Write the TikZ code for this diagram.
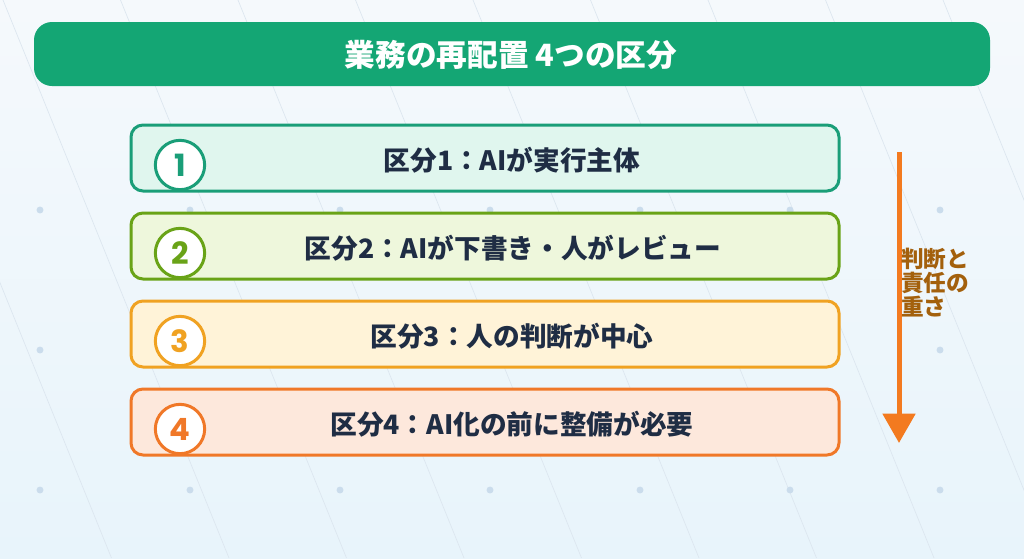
\documentclass[tikz,border=0pt]{standalone}
\usepackage{fontspec}
\setmainfont{Noto Sans CJK JP}[BoldFont={Noto Sans CJK JP Black}]
\newfontfamily\pop{Poppins}[BoldFont={Poppins Bold}]
\usetikzlibrary{arrows.meta}
\definecolor{bgtop}{HTML}{F5F9FC}
\definecolor{bgbot}{HTML}{E8F4FB}
\definecolor{gridline}{HTML}{DCE6EF}
\definecolor{dotc}{HTML}{CADCEC}
\definecolor{titlegreen}{HTML}{14A674}
\definecolor{navy}{HTML}{1F2D44}
\definecolor{cA}{HTML}{1A9E78}\definecolor{fA}{HTML}{E0F6EE}
\definecolor{cB}{HTML}{69A317}\definecolor{fB}{HTML}{EEF7DC}
\definecolor{cC}{HTML}{F0A222}\definecolor{fC}{HTML}{FFF3D8}
\definecolor{cD}{HTML}{F07828}\definecolor{fD}{HTML}{FDE8DC}
\definecolor{arrowc}{HTML}{F37A1F}
\definecolor{brown}{HTML}{A3600C}
\tikzset{
  catbox/.style={draw=#1, line width=2.25pt, rounded corners=9pt, minimum width=531pt, minimum height=49.5pt, inner sep=0pt},
  numc/.style={circle, draw=#1, fill=white, line width=2.25pt, minimum size=37pt, inner sep=0pt, text=#1, font=\pop\bfseries\fontsize{23}{23}\selectfont},
  cattext/.style={text=navy, font=\bfseries\fontsize{20}{21}\selectfont},
}
\begin{document}
\begin{tikzpicture}[x=0.75pt, y=-0.75pt]
\useasboundingbox (0,0) rectangle (1024,558);
\shade[top color=bgtop, bottom color=bgbot] (0,0) rectangle (1024,558);
\begin{scope}
\clip (0,0) rectangle (1024,558);
\foreach \k in {-2,...,8} {
  \draw[gridline, line width=0.5pt] ({3+117.5*\k},0) -- ({3+117.5*\k+0.405*558},558);
}
\foreach \xx in {40,190,...,940} {
  \foreach \yy in {210,350,490} {
    \fill[dotc] (\xx,\yy) circle (2.6pt);
  }
}
\end{scope}
% title
\node[fill=titlegreen, rounded corners=13.5pt, minimum width=717pt, minimum height=48pt, inner sep=0pt] (title) at (512,54) {};
\node[text=white, font=\bfseries\fontsize{23}{24}\selectfont] (titletext) at (511,55) {業務の再配置 4つの区分};
% boxes
\node[catbox=cA, fill=fA] (b1) at (485,158) {};
\node[catbox=cB, fill=fB] (b2) at (485,246) {};
\node[catbox=cC, fill=fC] (b3) at (485,334) {};
\node[catbox=cD, fill=fD] (b4) at (485,422) {};
\node[numc=cA] (n1) at (180,165) {1};
\node[numc=cB] (n2) at (180,253) {2};
\node[numc=cC] (n3) at (180,341) {3};
\node[numc=cD] (n4) at (180,429) {4};
\node[cattext] (t1) at (512,160) {区分1：AIが実行主体};
\node[cattext] (t2) at (513,248) {区分2：AIが下書き・人がレビュー};
\node[cattext] (t3) at (512,336) {区分3：人の判断が中心};
\node[cattext] (t4) at (512,424) {区分4：AI化の前に整備が必要};
% arrow
\coordinate (atop) at (899,152);
\coordinate (abot) at (899,443);
\draw[arrowc, line width=3.75pt, -{Triangle[width=24pt,length=22pt]}] (atop) -- (abot);
\node[anchor=west, text=brown, align=left, inner sep=0pt, font=\bfseries\fontsize{17}{18}\selectfont] (lbl) at (901,283) {判断と\\責任の\\重さ};
\end{tikzpicture}
\end{document}
